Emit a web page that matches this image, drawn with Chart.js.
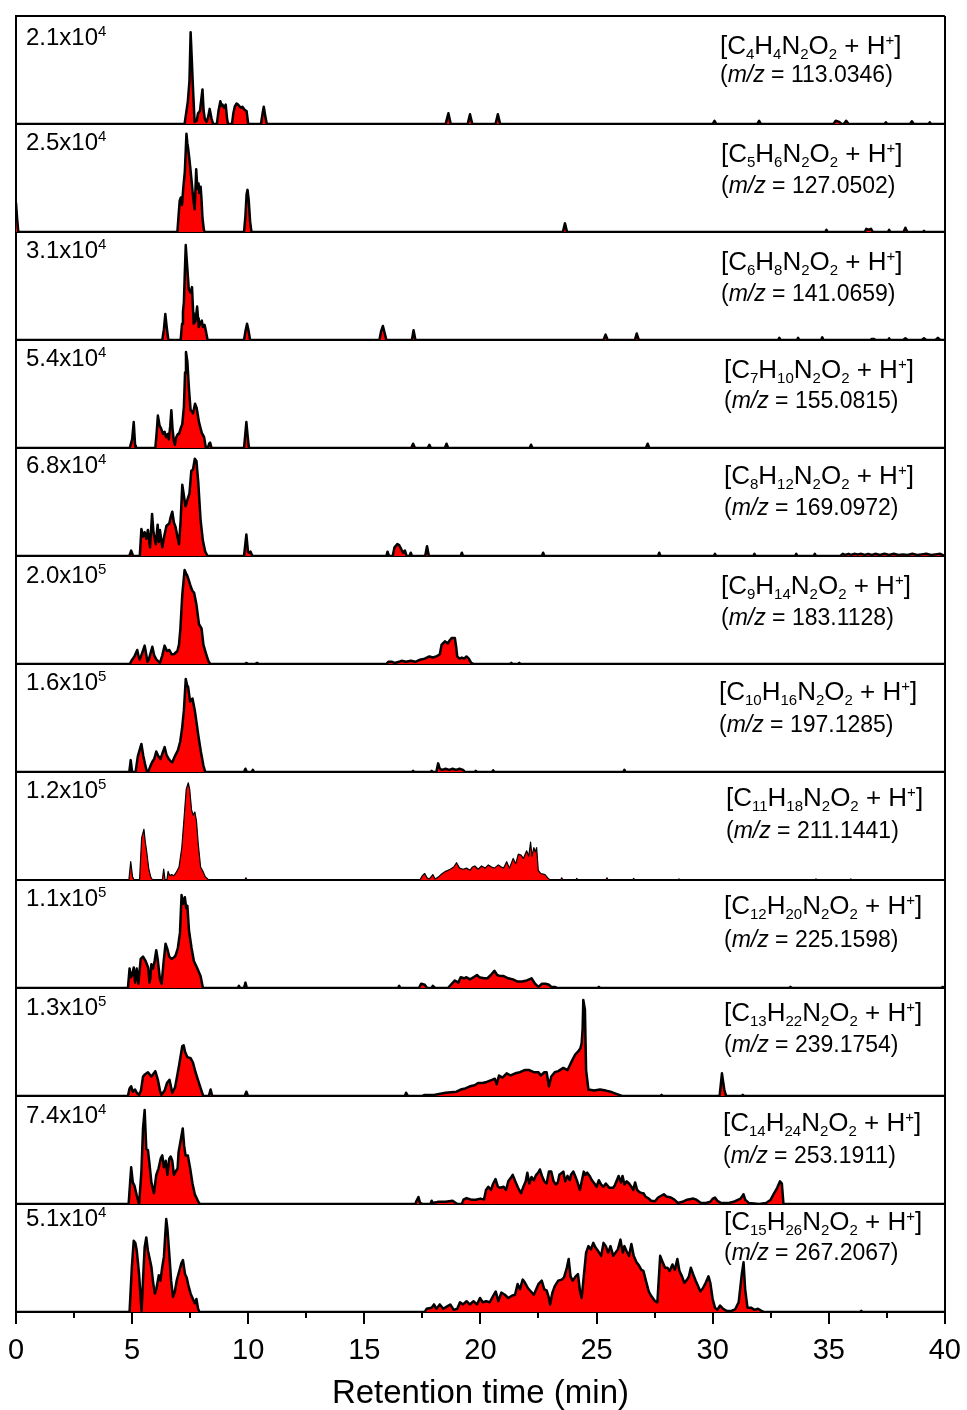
<!DOCTYPE html>
<html>
<head>
<meta charset="utf-8">
<title>Retention time</title>
<script src="https://cdn.jsdelivr.net/npm/chart.js@4.4.1/dist/chart.umd.min.js"></script>
<style>
html, body { margin: 0; padding: 0; background: #fff; }
#contenedor { width: 967px; height: 1410px; }
</style>
</head>
<body>
<div id="contenedor"><canvas id="myChart" width="967" height="1410"></canvas></div>
<script>
// SENALES: [tiempo (min), intensidad relativa (% de la escala del panel)]
var p1 = [[0,0],[7.26,0],[7.40,21],[7.47,40],[7.52,85],[7.57,60],[7.62,34],[7.69,2],[7.78,3],[7.84,10],[7.92,12],[8.03,32],[8.08,12],[8.13,5],[8.2,2],[8.27,6],[8.34,14],[8.42,5],[8.49,0],[8.65,0],[8.72,12],[8.80,21],[8.85,17],[8.89,18],[8.96,15],[9.03,18],[9.09,5],[9.13,0],[9.3,0],[9.36,10],[9.42,16],[9.5,19],[9.56,18],[9.64,16],[9.7,15],[9.75,16],[9.85,13],[9.93,12],[10.0,0],[10.55,0],[10.62,10],[10.67,16],[10.73,8],[10.8,0],[18.5,0],[18.62,10],[18.72,0],[19.45,0],[19.55,9],[19.65,0],[20.65,0],[20.75,9],[20.85,0],[30.0,0],[30.08,3],[30.16,0],[31.92,0],[32.0,3],[32.08,0],[35.2,0],[35.3,3],[35.45,2],[35.55,0],[35.65,0],[35.75,3],[35.85,0],[37.4,0],[37.46,1.5],[37.52,0],[38.5,0],[38.58,2.5],[38.66,0],[39.3,0],[39.35,1.5],[39.4,0],[40,0]];
var p2 = [[0,27],[0.05,12],[0.1,0],[6.95,0],[7.0,15],[7.05,29],[7.1,32],[7.15,25],[7.2,40],[7.27,56],[7.34,91],[7.38,82],[7.41,78],[7.48,65],[7.55,50],[7.62,34],[7.69,21],[7.72,35],[7.76,58],[7.81,40],[7.86,45],[7.9,36],[7.95,42],[7.99,30],[8.03,13],[8.09,2],[8.13,0],[9.82,0],[9.88,15],[9.93,35],[9.97,39],[10.02,30],[10.08,10],[10.14,0],[23.55,0],[23.64,8],[23.73,0],[34.85,0],[34.9,2],[34.95,0],[36.55,0],[36.62,3],[36.72,2],[36.82,3],[36.9,0],[37.55,0],[37.6,2],[37.65,0],[38.22,0],[38.3,4],[38.38,0],[39.05,0],[39.1,1],[39.15,0],[40,0]];
var p3 = [[0,0],[6.3,0],[6.37,10],[6.43,24],[6.49,12],[6.56,0],[7.09,0],[7.15,15],[7.19,26],[7.23,35],[7.26,56],[7.31,88],[7.35,75],[7.38,66],[7.44,47],[7.51,44],[7.58,49],[7.63,25],[7.65,15],[7.73,18],[7.8,31],[7.84,20],[7.87,12],[7.94,16],[8.0,18],[8.05,12],[8.12,14],[8.18,8],[8.25,0],[9.82,0],[9.88,8],[9.95,15],[10.02,8],[10.08,0],[15.65,0],[15.72,8],[15.8,13],[15.88,6],[15.95,0],[17.05,0],[17.12,9],[17.2,0],[25.3,0],[25.39,5],[25.48,0],[26.65,0],[26.73,6],[26.82,0],[32.82,0],[32.87,2],[32.92,0],[33.63,0],[33.68,2],[33.73,0],[34.67,0],[34.72,2.5],[34.77,0],[36.8,0],[36.85,1],[36.95,1],[37.0,0],[37.55,0],[37.6,1.5],[37.65,0],[38.2,0],[38.3,1.5],[38.4,0],[39.0,0],[39.1,1.5],[39.2,0],[39.6,0],[39.7,2],[39.8,0],[40,0]];
var p4 = [[0,0],[4.9,0],[4.95,4],[5.0,8],[5.07,24],[5.13,2],[5.16,0],[6.0,0],[6.06,15],[6.11,30],[6.18,21],[6.25,18],[6.33,13],[6.4,15],[6.46,10],[6.53,13],[6.58,8],[6.64,20],[6.69,35],[6.74,18],[6.8,6],[6.84,3],[6.9,10],[6.97,13],[7.02,13],[7.09,18],[7.16,22],[7.23,38],[7.28,70],[7.32,89],[7.38,80],[7.45,54],[7.52,35],[7.58,34],[7.62,32],[7.71,41],[7.78,37],[7.88,24],[8.0,14],[8.1,10],[8.17,1],[8.26,0],[8.32,4],[8.36,5],[8.42,0],[9.82,0],[9.87,12],[9.92,24],[9.98,10],[10.03,0],[17.02,0],[17.1,4],[17.18,0],[17.73,0],[17.8,3],[17.87,0],[18.47,0],[18.54,4],[18.61,0],[22.12,0],[22.18,3],[22.24,0],[27.13,0],[27.2,4],[27.27,0],[40,0]];
var p5 = [[0,0],[4.88,0],[4.96,5],[5.04,0],[5.33,0],[5.4,25],[5.47,18],[5.54,22],[5.61,16],[5.68,24],[5.73,15],[5.77,8],[5.86,39],[5.92,22],[6.02,11],[6.1,29],[6.15,13],[6.2,24],[6.3,8],[6.38,18],[6.48,28],[6.6,30],[6.66,36],[6.73,41],[6.8,31],[6.87,27],[6.95,18],[7.02,11],[7.09,33],[7.16,66],[7.23,56],[7.3,46],[7.38,52],[7.47,58],[7.55,79],[7.62,80],[7.7,90],[7.77,88],[7.85,68],[7.95,33],[8.05,14],[8.15,4],[8.25,0],[9.82,0],[9.92,20],[9.99,4],[10.05,3],[10.1,4],[10.18,0],[15.95,0],[16.0,4],[16.06,0],[16.22,0],[16.3,8],[16.42,11],[16.5,10],[16.6,6],[16.68,3],[16.75,5],[16.82,0],[16.95,0],[17.0,3],[17.05,0],[17.62,0],[17.7,9],[17.78,0],[19.15,0],[19.2,3],[19.25,0],[22.65,0],[22.7,3],[22.75,0],[27.65,0],[27.7,3],[27.75,0],[30.05,0],[30.1,2],[30.15,0],[31.75,0],[31.8,2],[31.85,0],[33.55,0],[33.6,2],[33.65,0],[34.35,0],[34.4,2],[34.45,0],[35.5,0],[35.6,2],[35.7,1],[35.85,2],[35.95,1],[36.1,2],[36.25,1.5],[36.4,2],[36.55,1],[36.7,2],[36.85,1],[37.0,2],[37.2,1],[37.4,2],[37.6,1],[37.8,2],[38.0,1],[38.2,1.5],[38.4,1],[38.6,2],[38.8,1],[39.0,1.5],[39.2,2],[39.4,1],[39.6,1.5],[39.8,2],[40,0]];
var p6 = [[0,0],[4.9,0],[5.0,4],[5.1,7],[5.22,13],[5.27,8],[5.33,4],[5.43,10],[5.54,17],[5.6,10],[5.66,2],[5.73,5],[5.87,16],[5.95,8],[6.05,4],[6.2,1],[6.3,8],[6.4,17],[6.5,12],[6.6,13],[6.7,9],[6.8,9],[6.95,12],[7.02,18],[7.08,33],[7.16,64],[7.26,87],[7.32,84],[7.37,82],[7.45,77],[7.52,72],[7.59,68],[7.67,66],[7.77,55],[7.88,37],[7.99,33],[8.07,18],[8.15,12],[8.22,7],[8.3,2],[8.38,0],[9.85,0],[9.93,1],[10.0,0],[10.3,0],[10.38,1],[10.46,0],[15.95,0],[16.03,2],[16.2,2],[16.3,1],[16.5,2],[16.6,3],[16.8,2],[17.0,3],[17.2,2],[17.4,4],[17.6,5],[17.8,7],[17.95,6],[18.1,7],[18.25,9],[18.33,18],[18.47,21],[18.6,19],[18.68,22],[18.76,24],[18.9,24],[18.96,15],[19.0,7],[19.1,5],[19.2,6],[19.3,5],[19.4,7],[19.5,5],[19.6,1],[19.7,0],[21.28,0],[21.33,1],[21.38,0],[21.62,0],[21.67,1],[21.72,0],[40,0]];
var p7 = [[0,0],[4.88,0],[4.94,11],[5.0,0],[5.15,0],[5.25,15],[5.32,20],[5.4,26],[5.48,15],[5.55,8],[5.64,0],[5.69,0],[5.78,5],[5.86,9],[5.95,12],[6.04,19],[6.12,15],[6.22,12],[6.3,17],[6.4,23],[6.48,16],[6.58,12],[6.66,10],[6.73,9],[6.85,15],[6.97,20],[7.07,28],[7.15,40],[7.23,57],[7.31,86],[7.37,80],[7.41,79],[7.5,65],[7.6,68],[7.7,57],[7.78,45],[7.85,34],[7.96,19],[8.07,6],[8.15,0],[9.82,0],[9.88,3],[9.94,0],[10.15,0],[10.2,2],[10.25,0],[17.05,0],[17.1,1],[17.15,0],[17.85,0],[17.9,1],[17.95,0],[18.1,0],[18.18,8],[18.25,3],[18.35,2],[18.5,3],[18.65,2],[18.8,3],[18.95,2],[19.1,3],[19.25,2],[19.33,0],[19.75,0],[19.8,1],[19.85,0],[20.5,0],[20.55,1.5],[20.6,0],[26.15,0],[26.2,2],[26.25,0],[40,0]];
var p8 = [[0,0],[4.86,0],[4.94,17],[5.02,3],[5.08,0],[5.32,0],[5.41,39],[5.51,47],[5.57,35],[5.63,26],[5.72,10],[5.8,3],[5.88,0],[6.3,0],[6.36,10],[6.42,0],[6.5,0],[6.55,8],[6.62,4],[6.7,5],[6.8,4],[6.9,7],[7.02,12],[7.14,30],[7.24,58],[7.33,84],[7.42,90],[7.48,84],[7.56,65],[7.63,60],[7.7,63],[7.77,55],[7.85,33],[7.95,12],[8.05,8],[8.15,3],[8.3,0],[9.85,0],[9.9,2],[9.95,0],[17.39,0],[17.5,4],[17.6,6],[17.7,2],[17.8,1],[17.95,5],[18.05,1],[18.2,3],[18.3,5],[18.5,8],[18.7,10],[18.85,12],[18.97,16],[19.1,11],[19.25,10],[19.4,11],[19.55,9],[19.65,12],[19.76,13],[19.9,10],[20.05,13],[20.2,11],[20.34,14],[20.48,12],[20.6,11],[20.77,14],[20.9,12],[21.0,11],[21.13,17],[21.25,11],[21.41,20],[21.52,15],[21.63,24],[21.75,23],[21.85,20],[21.99,27],[22.08,22],[22.16,35],[22.22,22],[22.3,30],[22.36,26],[22.42,30],[22.49,9],[22.6,6],[22.78,5],[22.9,2],[23.0,0],[23.45,0],[23.5,2],[23.55,0],[24.1,0],[24.15,1.5],[24.2,0],[25.4,0],[25.45,2],[25.5,0],[26.55,0],[26.6,1.5],[26.65,0],[28.5,0],[28.55,1],[28.6,0],[34.4,0],[34.45,1],[34.5,0],[35.9,0],[35.95,1],[36.0,0],[40,0]];
var p9 = [[0,0],[4.82,0],[4.89,18],[4.95,10],[5.0,12],[5.07,19],[5.13,5],[5.2,18],[5.27,4],[5.37,27],[5.47,29],[5.58,25],[5.69,19],[5.75,5],[5.78,8],[5.83,22],[5.9,18],[5.97,25],[6.04,35],[6.1,27],[6.2,8],[6.27,4],[6.36,25],[6.44,41],[6.52,36],[6.6,29],[6.7,27],[6.78,28],[6.87,30],[6.97,37],[7.06,51],[7.13,86],[7.2,78],[7.27,84],[7.33,74],[7.38,76],[7.45,53],[7.56,37],[7.66,25],[7.81,18],[7.95,11],[8.05,0],[9.55,0],[9.6,2],[9.65,0],[9.82,0],[9.88,5],[9.94,0],[16.45,0],[16.5,2],[16.55,0],[17.35,0],[17.45,4],[17.6,3],[17.7,0],[17.9,0],[17.95,2],[18.05,0],[18.6,0],[18.9,7],[19.05,5],[19.15,10],[19.3,9],[19.4,10],[19.55,8],[19.7,10],[19.85,12],[19.95,10],[20.15,9],[20.3,9],[20.45,12],[20.6,16],[20.72,12],[20.85,11],[21.0,11],[21.2,9],[21.4,8],[21.6,6],[21.8,6],[22.0,7],[22.2,9],[22.35,4],[22.5,1],[22.65,4],[22.8,4],[22.95,3],[23.05,1],[23.2,1],[23.3,0],[25.05,0],[25.1,1],[25.15,0],[33.3,0],[33.35,1],[33.4,0],[39.85,0],[39.9,1],[40,0]];
var p10 = [[0,0],[4.82,0],[4.89,7],[4.96,9],[5.03,4],[5.13,6],[5.2,3],[5.3,1],[5.38,5],[5.47,18],[5.55,20],[5.68,22],[5.83,18],[6.0,23],[6.11,15],[6.2,5],[6.26,1],[6.4,5],[6.5,12],[6.61,15],[6.73,3],[6.85,8],[7.02,28],[7.16,46],[7.22,47],[7.28,41],[7.38,36],[7.52,35],[7.62,31],[7.73,22],[7.88,12],[8.0,4],[8.06,0],[8.3,0],[8.38,6],[8.45,0],[9.85,0],[9.92,4],[9.99,0],[16.75,0],[16.8,3],[16.88,0],[17.5,0],[17.6,1],[18.0,1],[18.5,3],[18.97,4],[19.15,6],[19.35,7],[19.55,9],[19.75,10],[19.9,12],[20.1,12],[20.27,13],[20.5,15],[20.62,16],[20.7,11],[20.8,19],[20.95,17],[21.13,21],[21.3,19],[21.5,21],[21.7,22],[21.9,24],[22.1,24],[22.3,22],[22.5,22],[22.6,19],[22.75,22],[22.85,22],[22.95,9],[23.05,18],[23.2,22],[23.35,23],[23.57,26],[23.75,24],[23.86,29],[23.95,33],[24.07,38],[24.2,41],[24.3,44],[24.36,49],[24.4,62],[24.43,89],[24.5,80],[24.55,24],[24.65,6],[24.9,5],[25.15,6],[25.4,5],[25.6,4],[25.85,2],[26.1,0],[27.75,0],[27.8,1],[27.85,0],[30.3,0],[30.4,21],[30.5,6],[30.58,0],[31.25,0],[31.3,1],[31.35,0],[40,0]];
var p11 = [[0,0],[4.85,0],[4.96,34],[5.03,20],[5.1,17],[5.2,8],[5.3,0],[5.33,0],[5.4,30],[5.47,70],[5.54,87],[5.61,51],[5.68,50],[5.75,37],[5.83,20],[5.94,10],[6.04,27],[6.14,33],[6.23,42],[6.3,45],[6.37,34],[6.45,40],[6.52,27],[6.6,42],[6.66,44],[6.73,40],[6.8,27],[6.9,31],[6.96,33],[7.0,48],[7.1,60],[7.18,70],[7.24,54],[7.3,45],[7.4,45],[7.5,33],[7.6,19],[7.7,9],[7.85,2],[7.92,0],[17.2,0],[17.25,3],[17.33,6.5],[17.4,1],[17.5,0],[17.85,0],[17.9,3],[17.95,1],[18.2,2],[18.5,2],[18.8,3],[19.0,0],[19.2,0],[19.27,4],[19.4,5.5],[19.6,4],[19.8,4],[20.0,5],[20.15,4],[20.24,13],[20.34,16],[20.45,13],[20.55,19],[20.65,23],[20.75,16],[20.85,15],[21.0,16],[21.1,13],[21.2,21],[21.3,24],[21.39,27],[21.5,21],[21.62,15],[21.75,10],[21.85,16],[21.95,21],[22.02,29],[22.1,19],[22.2,25],[22.3,22],[22.4,27],[22.49,29],[22.56,32],[22.65,26],[22.75,21],[22.85,19],[22.95,30],[23.05,30],[23.15,21],[23.25,18],[23.33,20],[23.4,27],[23.57,30],[23.65,21],[23.75,26],[23.85,22],[23.9,27],[24.0,30],[24.08,26],[24.15,22],[24.28,13],[24.35,20],[24.45,30],[24.52,27],[24.6,29],[24.7,26],[24.8,22],[24.91,19],[25.0,16],[25.1,22],[25.2,18],[25.3,16],[25.4,19],[25.55,15],[25.72,15],[25.8,18],[25.95,26],[26.05,20],[26.12,26],[26.2,18],[26.3,21],[26.4,19],[26.5,16],[26.58,13],[26.66,20],[26.75,13],[26.85,11],[26.95,10],[27.02,10],[27.1,7],[27.25,5],[27.35,3],[27.52,2.5],[27.65,6],[27.9,9],[28.0,7],[28.2,6],[28.35,4],[28.5,1],[28.7,2],[28.9,4],[29.17,5],[29.3,4],[29.5,1],[29.7,1],[29.9,2],[30.01,5],[30.1,6],[30.2,3],[30.35,1],[30.7,1],[30.9,2],[31.2,5],[31.33,9],[31.4,4],[31.55,1],[32.0,0],[32.3,1],[32.5,4],[32.62,9],[32.78,15],[32.9,21],[32.98,19],[33.05,0],[40,0]];
var p12 = [[0,0],[4.89,0],[4.99,42],[5.07,66],[5.14,64],[5.2,57],[5.3,35],[5.37,12],[5.41,1],[5.47,30],[5.54,60],[5.61,69],[5.68,57],[5.75,50],[5.83,42],[5.9,28],[5.98,17],[6.05,22],[6.15,34],[6.22,29],[6.3,42],[6.37,51],[6.42,69],[6.47,86],[6.52,77],[6.6,54],[6.68,29],[6.76,14],[6.84,19],[6.92,29],[7.02,37],[7.12,45],[7.19,48],[7.28,35],[7.35,32],[7.42,25],[7.52,17],[7.62,12],[7.7,8],[7.77,12],[7.84,3],[7.9,0],[17.6,0],[17.68,3],[17.9,4],[18.0,7],[18.1,3],[18.25,7],[18.4,3],[18.55,5],[18.7,7],[18.85,2],[19.0,3],[19.12,9],[19.25,7],[19.4,10],[19.54,7],[19.7,10],[19.85,7],[19.98,13],[20.1,9],[20.25,10],[20.4,9],[20.55,15],[20.66,19],[20.77,10],[20.9,18],[21.05,16],[21.2,13],[21.35,15],[21.49,16],[21.6,26],[21.7,21],[21.82,30],[21.92,27],[22.05,22],[22.3,16],[22.4,21],[22.5,26],[22.64,29],[22.75,21],[22.85,20],[22.95,13],[23.0,7],[23.1,18],[23.2,24],[23.35,29],[23.5,30],[23.6,32],[23.72,41],[23.8,49],[23.88,33],[23.97,29],[24.1,33],[24.2,35],[24.29,19],[24.36,13],[24.45,33],[24.55,55],[24.65,61],[24.76,58],[24.86,64],[24.95,60],[25.05,57],[25.2,52],[25.3,64],[25.4,61],[25.5,55],[25.6,61],[25.72,52],[25.82,55],[25.92,58],[26.03,67],[26.13,55],[26.2,61],[26.3,56],[26.4,52],[26.5,63],[26.6,52],[26.72,46],[26.83,43],[26.93,39],[27.02,38],[27.15,27],[27.25,19],[27.35,15],[27.52,10],[27.62,9],[27.74,52],[27.85,46],[27.95,41],[28.05,41],[28.15,38],[28.27,44],[28.37,39],[28.48,49],[28.57,38],[28.68,33],[28.78,27],[28.9,30],[28.98,33],[29.06,41],[29.16,35],[29.27,29],[29.37,24],[29.47,19],[29.58,22],[29.7,27],[29.82,33],[29.9,27],[30.0,12],[30.1,4],[30.2,2],[30.32,6],[30.45,3],[30.6,1],[30.8,1],[30.97,2.5],[31.12,9],[31.26,36],[31.33,46],[31.4,21],[31.5,4],[31.65,4],[31.8,2],[31.95,3],[32.1,1],[32.2,0],[36.35,0],[36.4,1],[36.45,0],[40,0]];

var senales = [p1, p2, p3, p4, p5, p6, p7, p8, p9, p10, p11, p12];

// ESCALA DE CADA PANEL (a x 10^b) Y FORMULAS
var escalaBase = ['2.1', '2.5', '3.1', '5.4', '6.8', '2.0', '1.6', '1.2', '1.1', '1.3', '7.4', '5.1'];
var escalaExp = ['4', '4', '4', '4', '4', '5', '5', '5', '5', '5', '4', '4'];
var numC = ['4', '5', '6', '7', '8', '9', '10', '11', '12', '13', '14', '15'];
var numH = ['4', '6', '8', '10', '12', '14', '16', '18', '20', '22', '24', '26'];
var valoresMz = ['113.0346', '127.0502', '141.0659', '155.0815', '169.0972', '183.1128', '197.1285', '211.1441', '225.1598', '239.1754', '253.1911', '267.2067'];
var ticksX = [0, 5, 10, 15, 20, 25, 30, 35, 40];

// posiciones de los textos (px desde el borde del panel)
var escalaDy = [29, 26, 26, 26, 25, 27, 26, 26, 26, 27, 27, 22];
var formulaDx = [704, 705, 705, 708, 708, 705, 703, 710, 708, 708, 707, 708];
var formulaDy1 = [38, 38, 38, 38, 36, 38, 36, 34, 34, 33, 35, 26];
var formulaDy2 = [66, 69, 69, 68, 67, 69, 68, 66, 67, 64, 67, 56];
var grosorLinea = [2.5, 2.5, 2.5, 2.5, 2.5, 2.5, 2.5, 1.2, 2.5, 2.5, 2.5, 2.5];

var fuente = "'Liberation Sans', Arial, sans-serif";

// escribe varios trozos seguidos (subindices, superindices, cursiva)
function escribeTrozos(ctx, x, y, trozos) {
    trozos.forEach(function (t) {
        ctx.font = (t.italic ? 'italic ' : '') + t.size + 'px ' + fuente;
        ctx.fillText(t.text, x, y + (t.dy || 0));
        x += ctx.measureText(t.text).width;
    });
}

var textosPlugin = {
    id: 'textos',
    afterDraw: function (chart) {
        var ctx = chart.ctx;
        var area = chart.chartArea;
        ctx.save();
        ctx.fillStyle = '#000';
        ctx.textBaseline = 'alphabetic';
        ctx.textAlign = 'left';

        // marcas menores del eje x
        var ex = chart.scales.x;
        ctx.strokeStyle = '#000';
        ctx.lineWidth = 2;
        for (var k = 0; k < ticksX.length - 1; k++) {
            var px = Math.round(ex.getPixelForValue((ticksX[k] + ticksX[k + 1]) / 2));
            ctx.beginPath();
            ctx.moveTo(px, area.bottom);
            ctx.lineTo(px, area.bottom + 6);
            ctx.stroke();
        }

        for (var i = 0; i < senales.length; i++) {
            var top = chart.scales['y' + i].top;
            escribeTrozos(ctx, area.left + 10, top + escalaDy[i], [
                { text: escalaBase[i] + 'x10', size: 24 },
                { text: escalaExp[i], size: 15, dy: -9 }
            ]);
            var fx = area.left + formulaDx[i];
            escribeTrozos(ctx, fx, top + formulaDy1[i], [
                { text: '[C', size: 26 },
                { text: numC[i], size: 15, dy: 5 },
                { text: 'H', size: 26 },
                { text: numH[i], size: 15, dy: 5 },
                { text: 'N', size: 26 },
                { text: '2', size: 15, dy: 5 },
                { text: 'O', size: 26 },
                { text: '2', size: 15, dy: 5 },
                { text: ' + H', size: 26 },
                { text: '+', size: 15, dy: -9 },
                { text: ']', size: 26 }
            ]);
            escribeTrozos(ctx, fx, top + formulaDy2[i], [
                { text: '(', size: 23 },
                { text: 'm/z', size: 23, italic: true },
                { text: ' = ' + valoresMz[i] + ')', size: 23 }
            ]);
        }
        ctx.restore();
    }
};

var escalas = {
    x: {
        type: 'linear',
        position: 'bottom',
        min: 0,
        max: 40,
        afterBuildTicks: function (s) {
            s.ticks = ticksX.map(function (v) { return { value: v }; });
        },
        afterFit: function (s) { s.height = 98; },
        ticks: {
            color: '#000',
            padding: 6,
            maxRotation: 0,
            font: { family: fuente, size: 29, lineHeight: 1.45 }
        },
        grid: {
            color: function (c) {
                return (c.tick && (c.tick.value === 0 || c.tick.value === 40)) ? '#000' : 'rgba(0,0,0,0)';
            },
            lineWidth: 2,
            tickColor: '#000',
            tickLength: 12,
            tickWidth: 2
        },
        border: { display: true, color: '#000', width: 2 },
        title: {
            display: true,
            text: 'Retention time (min)',
            color: '#000',
            font: { family: fuente, size: 33, lineHeight: 1 },
            padding: { top: 0, bottom: 0 }
        }
    }
};

var datasets = [];
senales.forEach(function (serie, i) {
    escalas['y' + i] = {
        type: 'linear',
        position: 'left',
        stack: 'paneles',
        stackWeight: 1,
        weight: senales.length - i,
        min: 0,
        max: 100,
        afterBuildTicks: function (s) { s.ticks = [{ value: 0 }, { value: 100 }]; },
        afterFit: function (s) { s.width = 0; },
        ticks: { display: false },
        grid: { color: '#000', lineWidth: 2, drawTicks: false },
        border: { display: true, color: '#000', width: 2 }
    };
    datasets.push({
        label: 'm/z ' + valoresMz[i],
        data: serie.map(function (p) { return { x: p[0], y: p[1] }; }),
        xAxisID: 'x',
        yAxisID: 'y' + i,
        fill: 'origin',
        backgroundColor: '#ff0000',
        borderColor: '#000000',
        borderWidth: grosorLinea[i],
        borderJoinStyle: 'round',
        pointRadius: 0,
        tension: 0
    });
});

var ctx = document.getElementById('myChart').getContext('2d');
var myChart = new Chart(ctx, {
    type: 'line',
    data: { datasets: datasets },
    options: {
        responsive: false,
        animation: false,
        parsing: false,
        normalized: true,
        layout: { padding: { left: 16, right: 22, top: 16, bottom: 0 } },
        plugins: {
            legend: { display: false },
            tooltip: { enabled: false },
            title: { display: false }
        },
        scales: escalas
    },
    plugins: [textosPlugin]
});
</script>
</body>
</html>
